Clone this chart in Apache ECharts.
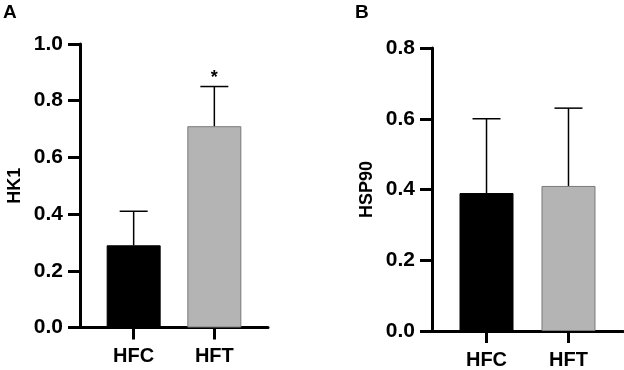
<!DOCTYPE html>
<html>
<head>
<meta charset="utf-8">
<script src="https://cdn.jsdelivr.net/npm/echarts@6/dist/echarts.min.js"></script>
<style>
  html, body { margin: 0; padding: 0; background: #fff; }
  #chart { width: 624px; height: 370px; }
</style>
</head>
<body>
<div id="chart"></div>
<script>
// groups on the x axis
const groups = ['HFC', 'HFT'];
const groupPos = [0, 1];
const barColors = ['#000000', '#b4b4b4'];

// panel A: HK1
const hk1Mean = [0.29, 0.71];
const hk1Err = [0.12, 0.14];
const hk1Sig = ['', '*'];

// panel B: HSP90
const hsp90Mean = [0.39, 0.41];
const hsp90Err = [0.21, 0.22];
const hsp90Sig = ['', ''];

const font = 'Liberation Sans, Arial, sans-serif';

function xAxisFor(gridIndex) {
    return {
        type: 'value',
        gridIndex: gridIndex,
        min: -0.665,
        max: 1.665,
        splitLine: { show: false },
        axisLine: { show: true, onZero: false, lineStyle: { color: '#000', width: 3 } },
        axisTick: { show: true, customValues: groupPos, length: 12, lineStyle: { color: '#000', width: 3 } },
        axisLabel: {
            customValues: groupPos,
            formatter: function (v) { return groups[Math.round(v)]; },
            margin: 19,
            color: '#000',
            fontSize: 20,
            fontWeight: 'bold',
            fontFamily: font
        }
    };
}

function yAxisFor(gridIndex, name, max) {
    return {
        type: 'value',
        gridIndex: gridIndex,
        min: 0,
        max: max,
        interval: 0.2,
        name: name,
        nameLocation: 'middle',
        nameGap: 56,
        nameTextStyle: { color: '#000', fontSize: 18, fontWeight: 'bold', fontFamily: font },
        splitLine: { show: false },
        axisLine: { show: true, onZero: false, lineStyle: { color: '#000', width: 3 } },
        axisTick: { show: true, length: 12, lineStyle: { color: '#000', width: 3 } },
        axisLabel: {
            formatter: function (v) { return v.toFixed(1); },
            margin: 17,
            color: '#000',
            fontSize: 21,
            fontWeight: 'bold',
            fontFamily: font
        }
    };
}

function barSeries(idx, means) {
    return {
        type: 'bar',
        xAxisIndex: idx,
        yAxisIndex: idx,
        barWidth: 54,
        data: means.map((m, i) => ({
            value: [groupPos[i], m],
            itemStyle: {
                color: barColors[i],
                borderColor: i === 0 ? '#000' : '#7a7a7a',
                borderWidth: 1
            }
        })),
        z: 2
    };
}

function errorSeries(idx, means, errs, sig) {
    return {
        type: 'custom',
        xAxisIndex: idx,
        yAxisIndex: idx,
        data: means.map((m, i) => [groupPos[i], m, m + errs[i], i]),
        z: 3,
        renderItem: function (params, api) {
            const base = api.coord([api.value(0), api.value(1)]);
            const top = api.coord([api.value(0), api.value(2)]);
            const half = 14;
            const children = [
                {
                    type: 'line',
                    shape: { x1: base[0], y1: base[1], x2: top[0], y2: top[1] },
                    style: { stroke: '#000', lineWidth: 1.5 }
                },
                {
                    type: 'line',
                    shape: { x1: top[0] - half, y1: top[1], x2: top[0] + half, y2: top[1] },
                    style: { stroke: '#000', lineWidth: 1.5 }
                }
            ];
            const s = sig[api.value(3)];
            if (s) {
                // star sits a little above the cap
                children.push({
                    type: 'text',
                    style: {
                        text: s,
                        x: top[0],
                        y: top[1] + 1,
                        align: 'center',
                        verticalAlign: 'bottom',
                        fill: '#000',
                        fontSize: 18,
                        fontWeight: 'bold',
                        fontFamily: font
                    }
                });
            }
            return { type: 'group', children: children };
        }
    };
}

const chart = echarts.init(document.getElementById('chart'));
chart.setOption({
    animation: false,
    backgroundColor: '#fff',
    grid: [
        { left: 80, top: 44, width: 188, height: 283.5 },
        { left: 432, top: 48, width: 191, height: 283.5 }
    ],
    xAxis: [xAxisFor(0), xAxisFor(1)],
    yAxis: [yAxisFor(0, 'HK1', 1.0), yAxisFor(1, 'HSP90', 0.8)],
    graphic: [
        { type: 'text', left: 3, top: 3, style: { text: 'A', fill: '#000', fontSize: 19, fontWeight: 'bold', fontFamily: font } },
        { type: 'text', left: 355, top: 3, style: { text: 'B', fill: '#000', fontSize: 19, fontWeight: 'bold', fontFamily: font } }
    ],
    series: [
        barSeries(0, hk1Mean),
        errorSeries(0, hk1Mean, hk1Err, hk1Sig),
        barSeries(1, hsp90Mean),
        errorSeries(1, hsp90Mean, hsp90Err, hsp90Sig)
    ]
});
</script>
</body>
</html>
